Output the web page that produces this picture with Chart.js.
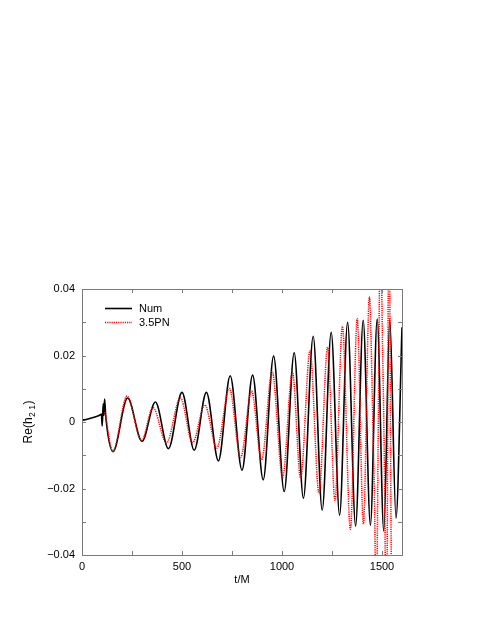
<!DOCTYPE html>
<html><head><meta charset="utf-8">
<script src="https://cdn.jsdelivr.net/npm/chart.js@4/dist/chart.umd.min.js"></script>
<style>html,body{margin:0;padding:0;background:#fff;}canvas{display:block;}</style>
</head><body>
<canvas id="c" width="485" height="627" style="width:485px;height:627px"></canvas>
<script>
// ---- data ----
const numT = [0, 30, 60, 90, 97, 101, 106, 109, 113, 119, 155, 228, 300, 367, 432, 500, 561, 622, 682, 741, 800, 853, 906, 958, 1011, 1061, 1107, 1156, 1201, 1246, 1288, 1328, 1368, 1406, 1442, 1476, 1509, 1539, 1570, 1600];
const numV = [0.0005, 0.0009, 0.0014, 0.0021, 0.0024, -0.0012, 0.0055, 0.002, 0.0069, 0.0015, -0.0089, 0.0072, -0.0058, 0.006, -0.008, 0.0089, -0.0085, 0.0089, -0.0117, 0.0139, -0.0145, 0.0141, -0.0174, 0.0198, -0.0209, 0.0208, -0.0229, 0.0258, -0.0265, 0.027, -0.028, 0.03, -0.0313, 0.0306, -0.031, 0.031, -0.0328, 0.0308, -0.0289, 0.0285];
const pnT = [114, 155, 225, 298, 355, 422, 492, 553, 614, 674, 737, 793, 848, 898, 951, 1003, 1052, 1093, 1140, 1185, 1228, 1265, 1302, 1342, 1376, 1407, 1437, 1454, 1466, 1471, 1476, 1487, 1493, 1499, 1509, 1516, 1521, 1526, 1531, 1535, 1539, 1546, 1552];
const pnV = [0.003, -0.0088, 0.0078, -0.0055, 0.0043, -0.0063, 0.0072, -0.0062, 0.0051, -0.0078, 0.0101, -0.0107, 0.0093, -0.0114, 0.0152, -0.0167, 0.0151, -0.0169, 0.0214, -0.0214, 0.0225, -0.0236, 0.0288, -0.0323, 0.0311, -0.0307, 0.0377, 0, -0.04, -0.08, -0.04, 0.04, 0.09, 0.04, 0, -0.04, -0.1, -0.04, 0.04, 0.1, 0.04, -0.04, -0.1];
const seriesLabels = ['Num', '3.5PN'];
const xRange = [0, 1600];
const yRange = [-0.04, 0.04];
const xTicks = [0, 250, 500, 750, 1000, 1250, 1500];
const xTickLabels = ['0', '', '500', '', '1000', '', '1500'];
const yTicks = [-0.04, -0.03, -0.02, -0.01, 0, 0.01, 0.02, 0.03, 0.04];
const yTickLabels = ['\u22120.04', '', '\u22120.02', '', '0', '', '0.02', '', '0.04'];
const xTitle = 't/M';

const FONT = '"Liberation Sans", Arial, Helvetica, sans-serif';
const toPts = (ts, vs) => ts.map((t, i) => ({x: t, y: vs[i]}));

const decor = {
  id: 'decor',
  afterDatasetsDraw(chart) {
    const ctx = chart.ctx, a = chart.chartArea;
    const xs = chart.scales.x, ys = chart.scales.y;
    ctx.save();
    ctx.strokeStyle = '#7a7a7a';
    ctx.lineWidth = 1;
    ctx.beginPath();
    xTicks.forEach(v => {
      if (v <= xRange[0] || v >= xRange[1]) return;
      const px = Math.round(xs.getPixelForValue(v)) + 0.5;
      ctx.moveTo(px, a.bottom); ctx.lineTo(px, a.bottom - 4);
      ctx.moveTo(px, a.top); ctx.lineTo(px, a.top + 4);
    });
    yTicks.forEach(v => {
      if (v <= yRange[0] || v >= yRange[1]) return;
      const py = Math.round(ys.getPixelForValue(v)) + 0.5;
      ctx.moveTo(a.left, py); ctx.lineTo(a.left + 4, py);
      ctx.moveTo(a.right, py); ctx.lineTo(a.right - 4, py);
    });
    ctx.stroke();
    ctx.strokeRect(Math.round(a.left) + 0.5, Math.round(a.top) + 0.5, Math.round(a.right - a.left), Math.round(a.bottom - a.top));
    ctx.restore();
  },
  afterDraw(chart) {
    const ctx = chart.ctx, a = chart.chartArea;
    ctx.save();
    const ds = chart.data.datasets;
    ds.forEach((d, i) => {
      const y = a.top + 19.5 + i * 14;
      ctx.beginPath();
      ctx.strokeStyle = d.borderColor;
      ctx.lineWidth = d.borderWidth;
      ctx.setLineDash(d.borderDash || []);
      ctx.moveTo(a.left + 23, y); ctx.lineTo(a.left + 50, y);
      ctx.stroke();
      ctx.setLineDash([]);
      ctx.fillStyle = '#000';
      ctx.font = '11px ' + FONT;
      ctx.textBaseline = 'middle';
      ctx.textAlign = 'left';
      ctx.fillText(d.label, a.left + 57, y);
    });
    const cy = (a.top + a.bottom) / 2;
    ctx.translate(32, cy);
    ctx.rotate(-Math.PI / 2);
    ctx.fillStyle = '#000';
    ctx.textBaseline = 'alphabetic';
    ctx.textAlign = 'left';
    const big = '12px ' + FONT, small = '8.5px ' + FONT;
    const p1 = 'Re(h', p2 = '2 1', p3 = ')';
    ctx.font = big; const w1 = ctx.measureText(p1).width, w3 = ctx.measureText(p3).width;
    ctx.font = small; const w2 = ctx.measureText(p2).width;
    let x = -(w1 + w2 + w3 + 1) / 2;
    ctx.font = big; ctx.fillText(p1, x, 0); x += w1 + 0.5;
    ctx.font = small; ctx.fillText(p2, x, 3); x += w2 + 0.5;
    ctx.font = big; ctx.fillText(p3, x, 0);
    ctx.restore();
  }
};

new Chart(document.getElementById('c'), {
  type: 'line',
  data: {
    datasets: [
      {label: seriesLabels[0], data: toPts(numT, numV), borderColor: '#000000', borderWidth: 1.6, pointRadius: 0, cubicInterpolationMode: 'monotone', fill: false, order: 1},
      {label: seriesLabels[1], data: toPts(pnT, pnV), borderColor: '#ff0000', borderWidth: 1.5, borderDash: [1.2, 1], pointRadius: 0, cubicInterpolationMode: 'monotone', fill: false, order: 0}
    ]
  },
  options: {
    responsive: false,
    animation: false,
    devicePixelRatio: 1,
    layout: {padding: {left: 0, top: 289, right: 83, bottom: 40}},
    plugins: {legend: {display: false}, tooltip: {enabled: false}},
    scales: {
      x: {
        type: 'linear', min: xRange[0], max: xRange[1],
        grid: {display: false, drawTicks: false},
        border: {display: false},
        afterBuildTicks: s => { s.ticks = xTicks.map(v => ({value: v})); },
        ticks: {autoSkip: false, maxRotation: 0, padding: 5, color: '#000', font: {family: FONT, size: 11},
          callback: (v, i) => xTickLabels[xTicks.indexOf(v)] ?? ''},
        title: {display: true, text: xTitle, color: '#000', font: {family: FONT, size: 11}, padding: {top: 0, bottom: 0}},
        afterFit: s => { s.height = 32; }
      },
      y: {
        type: 'linear', min: yRange[0], max: yRange[1],
        grid: {display: false, drawTicks: false},
        border: {display: false},
        afterBuildTicks: s => { s.ticks = yTicks.map(v => ({value: v})); },
        ticks: {autoSkip: false, padding: 7, color: '#000', font: {family: FONT, size: 11},
          callback: (v) => { const i = yTicks.findIndex(t => Math.abs(t - v) < 1e-9); return i >= 0 ? yTickLabels[i] : ''; }},
        afterFit: s => { s.width = 82; }
      }
    }
  },
  plugins: [decor]
});
</script>
</body></html>
